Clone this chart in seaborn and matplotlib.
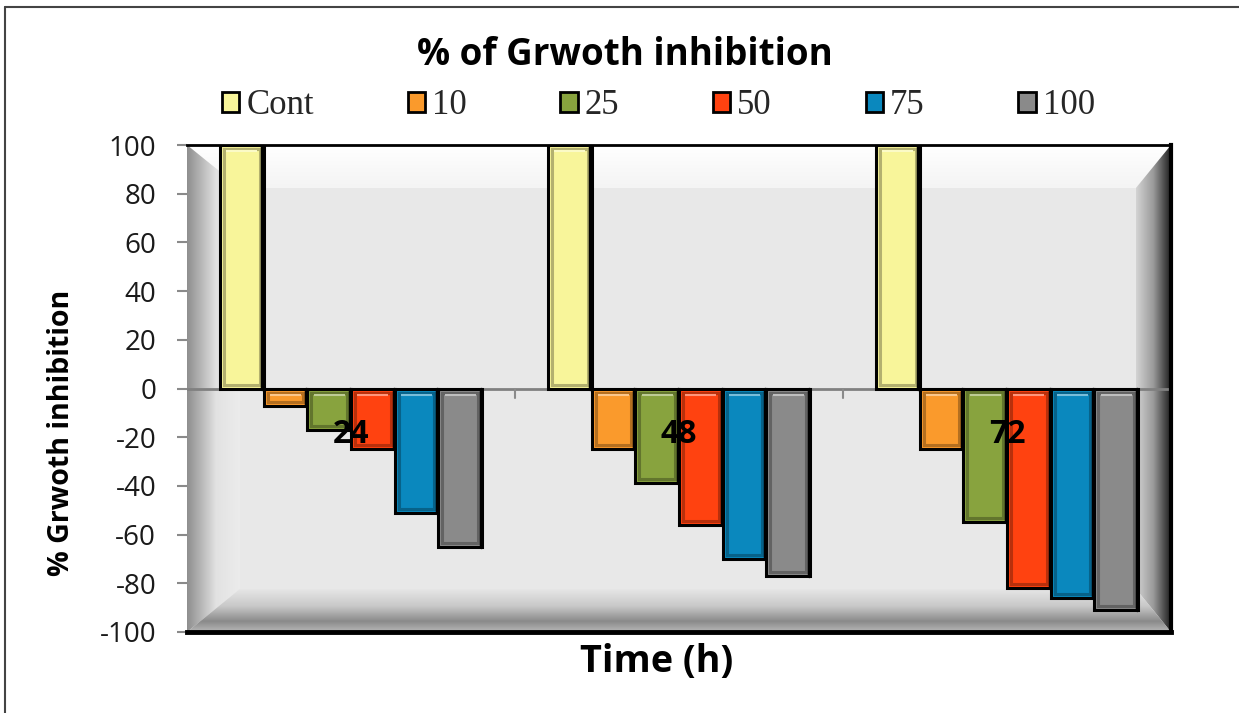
import numpy as np
import pandas as pd
import matplotlib
matplotlib.use("Agg")
import matplotlib.pyplot as plt
import seaborn as sns
from matplotlib.patches import Polygon, Rectangle
from matplotlib.lines import Line2D
from matplotlib.colors import to_rgb

# ---- data ----
times = ["24", "48", "72"]
series = ["Cont", "10", "25", "50", "75", "100"]
vals_cont = [100, 100, 100]
vals_10 = [-7, -25, -25]
vals_25 = [-17, -39, -55]
vals_50 = [-25, -56, -82]
vals_75 = [-51, -70, -86]
vals_100 = [-65, -77, -91]
yticks = [100, 80, 60, 40, 20, 0, -20, -40, -60, -80, -100]

colors = ["#F8F59A", "#FA9A2C", "#88A33E", "#FF4210", "#0A88BE", "#8A8A8A"]

all_vals = [vals_cont, vals_10, vals_25, vals_50, vals_75, vals_100]
rows = []
for s, v in zip(series, all_vals):
    for t, y in zip(times, v):
        rows.append({"time": t, "conc": s, "value": y})
df = pd.DataFrame(rows)

sns.set_theme(style="white")
plt.rcParams["font.family"] = ["Open Sans", "DejaVu Sans"]

W, H = 1239, 713
fig = plt.figure(figsize=(W / 100, H / 100), dpi=100)
fig.patch.set_facecolor("white")

L, R, T, B = 187, 1171, 145, 632
pos = [L / W, 1 - B / H, (R - L) / W, (B - T) / H]

# background "3D wall" axes
bg = fig.add_axes(pos, zorder=0)
bg.set_xlim(0, 1)
bg.set_ylim(0, 1)
bg.axis("off")

x0, x1 = (240 - L) / (R - L), (1136 - L) / (R - L)
y0, y1 = (B - 589) / (B - T), (B - 188) / (B - T)

bg.add_patch(Rectangle((0, 0), 1, 1, facecolor="#e8e8e8", edgecolor="none"))


def grad(verts, stops, direction, a, b):
    n = 256
    t = np.linspace(0, 1, n)
    pts = [p for p, _ in stops]
    cols = np.array([to_rgb(c) for _, c in stops])
    arr = np.stack([np.interp(t, pts, cols[:, k]) for k in range(3)], axis=-1)
    if direction == "h":
        img = arr[None, :, :]
        ext = [a, b, 0, 1]
    else:
        img = arr[:, None, :]
        ext = [0, 1, a, b]
    im = bg.imshow(img, extent=ext, origin="lower", aspect="auto",
                   interpolation="bilinear", zorder=1)
    poly = Polygon(verts, closed=True, transform=bg.transData, facecolor="none", edgecolor="none")
    bg.add_patch(poly)
    im.set_clip_path(poly)


grad([(0, 1), (1, 1), (x1, y1), (x0, y1)],
     [(0, "#f4f4f4"), (1, "#ffffff")], "v", y1, 1)
grad([(0, 0), (x0, y0), (x0, y1), (0, 1)],
     [(0, "#8e8e8e"), (0.55, "#e2e2e2"), (1, "#ececec")], "h", 0, x0)
grad([(1, 0), (1, 1), (x1, y1), (x1, y0)],
     [(0, "#d4d4d4"), (0.5, "#9a9a9a"), (1, "#1e1e1e")], "h", x1, 1)
grad([(0, 0), (1, 0), (x1, y0), (x0, y0)],
     [(0, "#b8b8b8"), (0.25, "#8a8a8a"), (0.6, "#c8c8c8"), (1, "#e6e6e6")], "v", 0, y0)
bg.set_xlim(0, 1)
bg.set_ylim(0, 1)

# main axes
ax = fig.add_axes(pos, zorder=2)
ax.patch.set_alpha(0)

ax.axhline(0, color="#808080", lw=2, zorder=1)

sns.barplot(data=df, x="time", y="value", hue="conc", palette=colors,
            saturation=1, edgecolor="black", linewidth=2.2, width=0.8,
            order=times, hue_order=series, ax=ax, zorder=2, legend=True)

ax.set_ylim(-100, 100)
ax.set_xlim(-0.5, len(times) - 0.5)

# bevel look on each bar (derived from the bars seaborn drew)
px_x = (len(times)) / (R - L)
px_y = 200 / (B - T)
for p in list(ax.patches):
    if not isinstance(p, Rectangle) or p.get_height() == 0:
        continue
    bx, by, bw, bh = p.get_x(), p.get_y(), p.get_width(), p.get_height()
    ylo, yhi = min(by, by + bh), max(by, by + bh)
    fc = np.array(p.get_facecolor()[:3])
    dark = tuple(fc * 0.72)
    light = tuple(np.clip(fc + (1 - fc) * 0.45, 0, 1))
    ins_x, ins_y = 4 * px_x, 4 * px_y
    if (yhi - ylo) > 3 * ins_y:
        ax.add_patch(Rectangle((bx + ins_x, ylo + ins_y), bw - 2 * ins_x,
                               (yhi - ylo) - 2 * ins_y, fill=False,
                               edgecolor=dark, lw=2.2, zorder=3))
        ax.plot([bx + ins_x * 1.6, bx + bw - ins_x * 1.6], [yhi - ins_y * 1.5] * 2,
                color=light, lw=1.5, zorder=3, solid_capstyle="butt")
    # thicker dark right side
    ax.plot([bx + bw - 1.2 * px_x] * 2, [ylo, yhi], color="black", lw=2.5, zorder=3)

ax.set_yticks(yticks)
ax.set_yticklabels([str(v) for v in yticks], fontsize=20, color="#1a1a1a")
ax.tick_params(axis="y", direction="out", length=7.2, width=1.5, color="#8a8a8a",
               left=True, pad=15)
ax.set_xticks(range(len(times)))
ax.set_xticklabels([])
ax.tick_params(axis="x", length=0)

for i in range(len(times) - 1):
    ax.plot([i + 0.5, i + 0.5], [0, -4], color="#8a8a8a", lw=1.5, zorder=1)

for i, t in enumerate(times):
    ax.text(i, -19, t, ha="center", va="center", fontsize=23, fontweight="bold",
            color="black", zorder=5)

for side in ["top", "right", "bottom"]:
    ax.spines[side].set_visible(True)
    ax.spines[side].set_color("black")
ax.spines["top"].set_linewidth(2)
ax.spines["right"].set_linewidth(3)
ax.spines["bottom"].set_linewidth(3.5)
ax.spines["left"].set_visible(False)

ax.set_xlabel("")
ax.set_ylabel("")

# legend
handles, labels = ax.get_legend_handles_labels()
ax.get_legend().remove()
leg = fig.legend(handles, labels, loc="center left",
                 bbox_to_anchor=(222 / W, 1 - 106 / H), ncol=6, frameon=False,
                 prop={"family": ["Liberation Serif"], "size": 25},
                 handlelength=0.5, handleheight=0.5, handletextpad=0.2,
                 columnspacing=2.7, borderpad=0, borderaxespad=0)
for h in leg.legend_handles:
    h.set_edgecolor("black")
    h.set_linewidth(2)

title = fig.text(625 / W, 1 - 55 / H, "% of Grwoth inhibition", ha="center", va="center",
                 fontsize=22, fontweight="bold", color="black")
ylab = fig.text(62 / W, 1 - 433 / H, "% Grwoth inhibition", ha="center", va="center",
                rotation=90, fontsize=19, fontweight="bold", color="black")
xlab = fig.text(657 / W, 1 - 662 / H, "Time (h)", ha="center", va="center",
                fontsize=24, fontweight="bold", color="black")

renderer = fig.canvas.get_renderer()
for txt, target, dim in [(title, 415, "w"), (ylab, 287, "h"), (xlab, 153, "w")]:
    bb = txt.get_window_extent(renderer)
    cur = bb.width if dim == "w" else bb.height
    txt.set_fontsize(txt.get_fontsize() * target / cur)

fig.add_artist(Line2D([5 / W, 5 / W], [0, 1 - 7 / H], transform=fig.transFigure,
                      color="#444444", lw=1.5))
fig.add_artist(Line2D([5 / W, 1], [1 - 7 / H, 1 - 7 / H], transform=fig.transFigure,
                      color="#444444", lw=1.5))

fig.savefig("out.png", dpi=100)
